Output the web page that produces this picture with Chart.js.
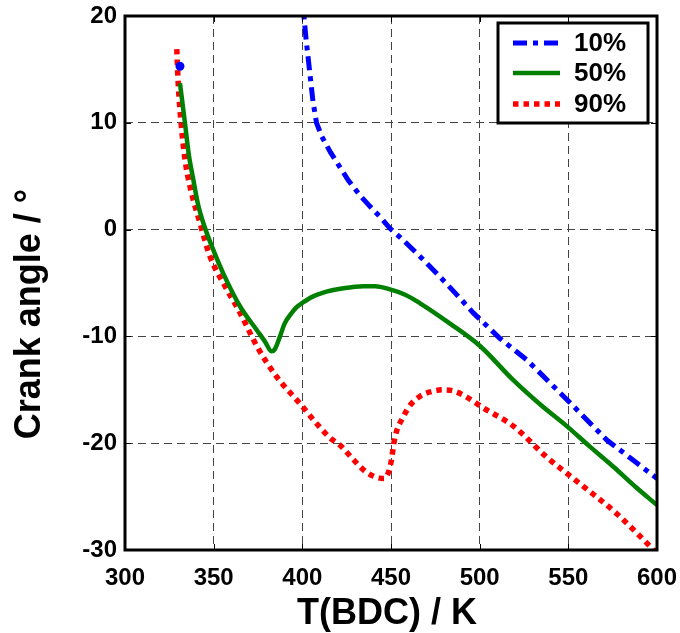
<!DOCTYPE html>
<html>
<head>
<meta charset="utf-8">
<script src="https://cdn.jsdelivr.net/npm/chart.js@4/dist/chart.umd.min.js"></script>
<style>
  html, body { margin: 0; padding: 0; background: #fff; }
  #wrap { width: 680px; height: 633px; }
</style>
</head>
<body>
<div id="wrap"><canvas id="crankChart"></canvas></div>
<script>
// data: T(BDC) in K, crank angle in degrees
const t10 = [331, 331.5, 399.8, 402, 404, 406, 408, 411, 416, 421, 426, 432.5, 438, 443.8, 449.5, 455, 464.5, 475.8, 486, 496.4, 511.5, 526.6, 549.1, 571.7, 600];
const a10 = [15.3, null, 22, 18, 15, 12, 10, 8.7, 7.2, 5.9, 4.6, 3.2, 2.2, 1.2, 0.1, -0.7, -2.2, -4.1, -5.9, -7.8, -10.2, -12.2, -15.9, -19.7, -23.3];

const t50 = [331, 333.8, 336, 338.5, 341, 344.2, 349.8, 355.4, 364.9, 374.3, 379, 382.7, 384.5, 387.4, 390, 393.1, 396.5, 400.6, 405.5, 411.8, 423.1, 434.4, 441, 449.5, 458, 466.4, 483.3, 500.2, 519, 535, 549.1, 562, 575.4, 588, 600];
const a50 = [13.7, 10, 7, 4.7, 2.5, 0.6, -1.9, -4.1, -7.2, -9.4, -10.5, -11.4, -11.2, -10.0, -8.8, -8.0, -7.3, -6.8, -6.3, -5.9, -5.5, -5.3, -5.3, -5.6, -6.1, -6.9, -8.8, -10.9, -14.1, -16.5, -18.4, -20.3, -22.2, -24.1, -25.8];

const t90 = [329.2, 330, 331.6, 333.8, 336.7, 342.3, 347.9, 356.4, 364.9, 374.3, 385.6, 398.7, 407.2, 415.6, 421.3, 429.7, 436, 442, 446, 449.5, 452.3, 457, 461, 466.4, 472, 479.5, 485, 490.8, 502.1, 519, 537.8, 556.6, 577.3, 600];
const a90 = [16.9, 13.7, 10, 6.6, 4.0, 0.6, -2.5, -5.3, -7.8, -10.9, -13.8, -16.3, -18.0, -19.5, -20.2, -21.7, -22.7, -23.2, -23.3, -22.2, -19.4, -17.5, -16.4, -15.6, -15.2, -15.0, -15.1, -15.5, -16.7, -18.4, -21.3, -23.8, -26.6, -30.3];

const seriesNames = ["10%", "50%", "90%"];
const xTicks = [300, 350, 400, 450, 500, 550, 600];
const yTicks = [-30, -20, -10, 0, 10, 20];

const FONT = '"Liberation Sans", Arial, sans-serif';

function pairs(xs, ys) {
    return xs.map((x, i) => ({ x: x, y: ys[i] }));
}

// legend, frame, inner ticks and axis titles (matlab look)
const matlabBits = {
    id: "matlabBits",
    afterDraw(chart) {
        const ctx = chart.ctx;
        const a = chart.chartArea;
        const xs = chart.scales.x, ys = chart.scales.y;
        ctx.save();

        // inner tick marks
        ctx.strokeStyle = "#000";
        ctx.lineWidth = 1;
        ctx.beginPath();
        xTicks.forEach((v) => {
            let px = Math.round(xs.getPixelForValue(v)) + 0.5;
            ctx.moveTo(px, a.bottom); ctx.lineTo(px, a.bottom - 6);
            ctx.moveTo(px, a.top); ctx.lineTo(px, a.top + 6);
        });
        yTicks.forEach((v) => {
            let py = Math.round(ys.getPixelForValue(v)) + 0.5;
            ctx.moveTo(a.left, py); ctx.lineTo(a.left + 6, py);
            ctx.moveTo(a.right, py); ctx.lineTo(a.right - 6, py);
        });
        ctx.stroke();

        // frame
        ctx.lineWidth = 3;
        ctx.strokeRect(a.left, a.top, a.right - a.left, a.bottom - a.top);

        // legend box
        const bx = 498, by = 23, bw = 150, bh = 100;
        ctx.fillStyle = "#fff";
        ctx.fillRect(bx, by, bw, bh);
        ctx.lineWidth = 3;
        ctx.strokeRect(bx, by, bw, bh);
        const rowY = [43, 73, 104];
        chart.data.datasets.forEach((ds, i) => {
            ctx.strokeStyle = ds.borderColor;
            ctx.lineWidth = ds.borderWidth;
            ctx.setLineDash(ds.borderDash || []);
            ctx.beginPath();
            ctx.moveTo(513, rowY[i]);
            ctx.lineTo(560, rowY[i]);
            ctx.stroke();
            ctx.setLineDash([]);
            ctx.fillStyle = "#000";
            ctx.font = "bold 26px " + FONT;
            ctx.textAlign = "left";
            ctx.textBaseline = "middle";
            ctx.fillText(ds.label, 574, rowY[i] + 1);
        });

        // axis titles
        ctx.fillStyle = "#000";
        ctx.font = "bold 36px " + FONT;
        ctx.textAlign = "center";
        ctx.textBaseline = "middle";
        ctx.fillText("T(BDC) / K", (a.left + a.right) / 2 - 4, 614);
        ctx.translate(30, 314);
        ctx.rotate(-Math.PI / 2);
        ctx.fillText("Crank angle / °", 0, 0);
        ctx.restore();
    }
};

const ctx = document.getElementById("crankChart").getContext("2d");
new Chart(ctx, {
    type: "line",
    data: {
        datasets: [
            {
                label: seriesNames[0],
                data: pairs(t10, a10),
                borderColor: "#0000ff",
                backgroundColor: "#0000ff",
                borderWidth: 5,
                borderDash: [14, 6, 5, 6],
                pointRadius: (c) => (c.dataIndex === 0 ? 2 : 0),
                spanGaps: false
            },
            {
                label: seriesNames[1],
                data: pairs(t50, a50),
                borderColor: "#008000",
                backgroundColor: "#008000",
                borderWidth: 4.5,
                cubicInterpolationMode: "monotone",
                pointRadius: 0
            },
            {
                label: seriesNames[2],
                data: pairs(t90, a90),
                borderColor: "#ff0000",
                backgroundColor: "#ff0000",
                borderWidth: 5.5,
                borderDash: [5.5, 5],
                cubicInterpolationMode: "monotone",
                pointRadius: 0
            }
        ]
    },
    options: {
        responsive: true,
        maintainAspectRatio: false,
        animation: false,
        layout: { padding: { top: 16, right: 23, left: 0, bottom: 0 } },
        elements: { line: { tension: 0, borderCapStyle: "butt" } },
        plugins: {
            legend: { display: false },
            tooltip: { enabled: false }
        },
        scales: {
            x: {
                type: "linear",
                min: 300,
                max: 600,
                afterFit: (s) => { s.height = 83; s.paddingLeft = 0; s.paddingRight = 0; },
                afterBuildTicks: (s) => { s.ticks = xTicks.map((v) => ({ value: v })); },
                ticks: {
                    padding: 14,
                    color: "#000",
                    font: { family: FONT, size: 24, weight: "bold" }
                },
                grid: { color: "#444", lineWidth: 1, drawTicks: false },
                border: { display: false, dash: [8, 5] }
            },
            y: {
                min: -30,
                max: 20,
                afterFit: (s) => { s.width = 125; s.paddingTop = 0; s.paddingBottom = 0; },
                afterBuildTicks: (s) => { s.ticks = yTicks.map((v) => ({ value: v })); },
                ticks: {
                    padding: 8,
                    color: "#000",
                    font: { family: FONT, size: 24, weight: "bold" }
                },
                grid: { color: "#444", lineWidth: 1, drawTicks: false },
                border: { display: false, dash: [8, 5] }
            }
        }
    },
    plugins: [matlabBits]
});
</script>
</body>
</html>
